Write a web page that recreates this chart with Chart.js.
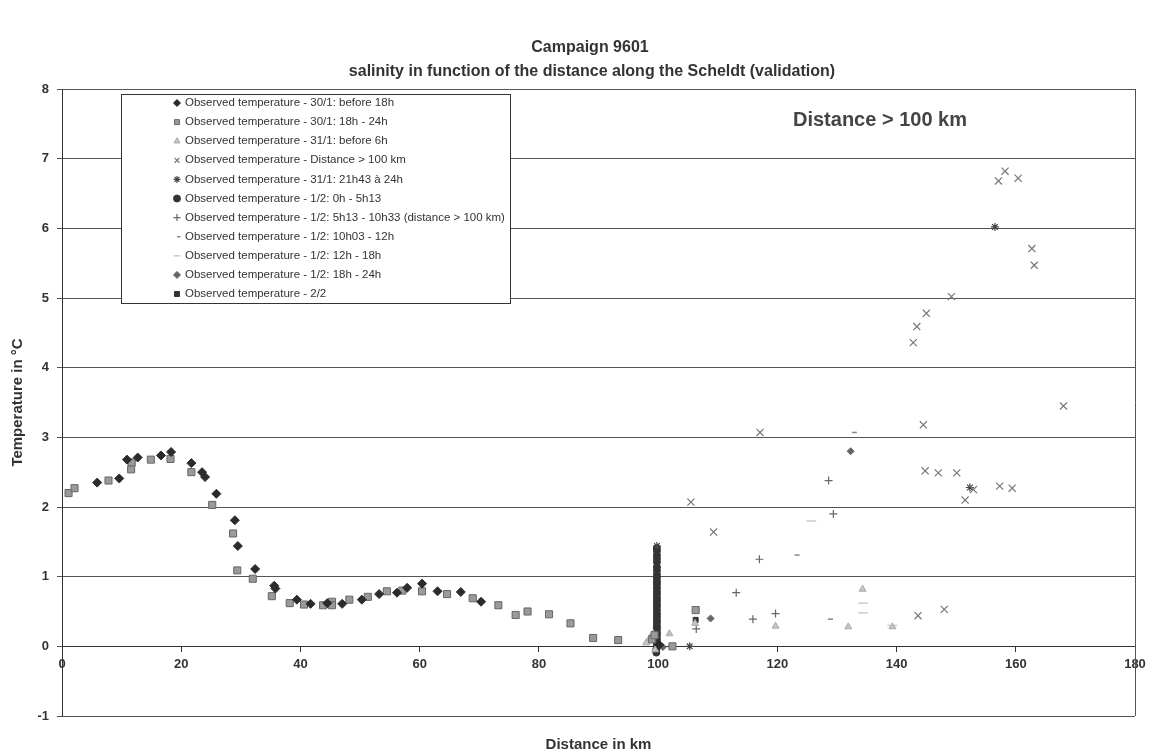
<!DOCTYPE html>
<html>
<head>
<meta charset="utf-8">
<script src="https://cdn.jsdelivr.net/npm/chart.js@4"></script>
<style>
  body { margin: 0; background: #fff; }
  #wrap { width: 1154px; height: 753px; }
</style>
</head>
<body>
<div id="wrap"><canvas id="chart" width="1154" height="753"></canvas></div>
<script>
// [km, temperature]
const obs301Before18 = [[5.9,2.35],[9.6,2.41],[10.9,2.68],[12.7,2.71],[16.6,2.74],[18.3,2.79],[21.7,2.63],[23.5,2.50],[24.0,2.43],[25.9,2.19],[29.0,1.81],[29.5,1.44],[32.4,1.11],[35.6,0.87],[35.8,0.83],[39.4,0.67],[41.7,0.61],[44.5,0.62],[47.0,0.61],[50.3,0.67],[53.2,0.75],[56.2,0.77],[57.9,0.84],[60.4,0.90],[63.0,0.79],[66.9,0.78],[70.3,0.64],[100.2,0.02]];
const obs301Late = [[1.1,2.20],[2.1,2.27],[7.8,2.38],[11.6,2.54],[11.7,2.64],[14.9,2.68],[18.2,2.69],[21.7,2.50],[25.2,2.03],[28.7,1.62],[29.4,1.09],[32.0,0.97],[35.2,0.72],[38.2,0.62],[40.6,0.60],[43.8,0.59],[45.3,0.64],[45.3,0.59],[48.2,0.67],[51.3,0.71],[54.5,0.79],[57.1,0.80],[60.4,0.79],[64.6,0.75],[68.9,0.69],[73.2,0.59],[76.1,0.45],[78.1,0.50],[81.7,0.46],[85.3,0.33],[89.1,0.12],[93.3,0.09],[99.0,0.10],[99.4,0.16],[102.4,0.0],[106.3,0.52]];
const obs311Before6 = [[98.0,0.05],[98.6,0.12],[99.2,0.18],[99.5,-0.05],[101.9,0.18],[106.2,0.33],[119.7,0.29],[131.9,0.28],[134.3,0.82],[139.3,0.28]];
const obsOver100 = [[105.5,2.07],[109.3,1.64],[117.1,3.07],[142.8,4.36],[143.4,4.59],[145.0,4.78],[149.2,5.02],[157.1,6.68],[158.2,6.82],[160.4,6.72],[162.7,5.71],[163.1,5.47],[168.0,3.45],[144.5,3.18],[144.8,2.52],[147.0,2.49],[150.1,2.49],[152.9,2.25],[151.5,2.10],[157.3,2.30],[159.4,2.27],[143.6,0.44],[148.0,0.53]];
const obs311Night = [[99.8,1.44],[105.3,0.0],[156.5,6.02],[152.3,2.28]];
const obs12Early = [[99.8,1.41],[99.8,1.37],[99.8,1.31],[99.8,1.26],[99.8,1.21],[99.8,1.14],[99.8,1.09],[99.8,1.03],[99.8,0.98],[99.8,0.93],[99.8,0.89],[99.8,0.84],[99.8,0.79],[99.8,0.75],[99.8,0.70],[99.8,0.66],[99.8,0.61],[99.8,0.57],[99.8,0.52],[99.8,0.47],[99.8,0.43],[99.8,0.38],[99.8,0.34],[99.8,0.29],[99.8,0.25],[99.8,0.20],[99.8,0.16],[99.8,0.11],[99.8,0.07],[99.8,0.02],[99.7,-0.04],[99.7,-0.09]];
const obs12Morning = [[106.4,0.25],[113.1,0.77],[115.9,0.39],[117.0,1.25],[119.7,0.47],[128.6,2.38],[129.4,1.90]];
const obs12Noon = [[99.1,0.27],[122.9,1.31],[128.5,0.39],[132.5,3.07]];
const obs12Afternoon = [[125.7,1.80],[134.4,0.62],[134.4,0.48],[139.3,0.30]];
const obs12Evening = [[108.8,0.40],[100.8,-0.01],[132.3,2.80]];
const obs22 = [[102.4,0.0],[106.3,0.38]];

const xTicks = [0, 20, 40, 60, 80, 100, 120, 140, 160, 180];
const yTicks = [-1, 0, 1, 2, 3, 4, 5, 6, 7, 8];

const pts = arr => arr.map(p => ({ x: p[0], y: p[1] }));
const FONT = '"Liberation Sans", Arial, sans-serif';

function series(label, data, style, radius, fill, stroke, bw) {
  return {
    label: label,
    data: pts(data),
    pointStyle: style,
    pointRadius: radius,
    pointHoverRadius: radius,
    backgroundColor: fill,
    borderColor: stroke,
    borderWidth: bw,
    showLine: false
  };
}

const datasets = [
  series('Observed temperature - 30/1: before 18h', obs301Before18, 'rectRot', 4.5, '#2b2b2b', '#2b2b2b', 1),
  series('Observed temperature - 30/1: 18h - 24h', obs301Late, 'rect', 5, '#9a9a9a', '#666', 1),
  series('Observed temperature - 31/1: before 6h', obs311Before6, 'triangle', 4, '#c4c4c4', '#aaa', 1),
  series('Observed temperature - Distance > 100 km', obsOver100, 'crossRot', 5, '#777', '#777', 1.2),
  series('Observed temperature - 31/1: 21h43 à 24h', obs311Night, 'star', 4, '#444', '#444', 1.2),
  series('Observed temperature - 1/2: 0h - 5h13', obs12Early, 'circle', 3.5, '#333', '#333', 1),
  series('Observed temperature - 1/2: 5h13 - 10h33 (distance > 100 km)', obs12Morning, 'cross', 4, '#666', '#666', 1.2),
  series('Observed temperature - 1/2: 10h03 - 12h', obs12Noon, 'dash', 5, '#888', '#888', 1.5),
  series('Observed temperature - 1/2: 12h - 18h', obs12Afternoon, 'line', 5, '#ccc', '#ccc', 1.5),
  series('Observed temperature - 1/2: 18h - 24h', obs12Evening, 'rectRot', 3.5, '#666', '#666', 1),
  series('Observed temperature - 2/2', obs22, 'rect', 3.5, '#333', '#333', 1)
];

const decorations = {
  id: 'decorations',
  afterDraw(chart) {
    const ctx = chart.ctx;
    const a = chart.chartArea;
    ctx.save();
    // right frame line
    ctx.strokeStyle = '#555';
    ctx.lineWidth = 1;
    ctx.beginPath();
    ctx.moveTo(a.right + 0.5, a.top);
    ctx.lineTo(a.right + 0.5, a.bottom);
    ctx.stroke();

    ctx.fillStyle = '#333';
    ctx.textAlign = 'center';
    ctx.textBaseline = 'middle';
    ctx.font = 'bold 16px ' + FONT;
    ctx.fillText('Campaign 9601', 590, 48);
    ctx.fillText('salinity in function of the distance along the Scheldt (validation)', 592, 72);

    ctx.font = 'bold 15px ' + FONT;
    ctx.fillText('Distance in km', (a.left + a.right) / 2, 745);
    ctx.save();
    ctx.translate(18, (a.top + a.bottom) / 2);
    ctx.rotate(-Math.PI / 2);
    ctx.fillText('Temperature in °C', 0, 0);
    ctx.restore();

    ctx.font = 'bold 20px ' + FONT;
    ctx.fillStyle = '#444';
    ctx.textAlign = 'left';
    ctx.fillText('Distance > 100 km', 793, 120);

    // legend box
    const lx = 121, ly = 94, lw = 389, lh = 209;
    ctx.fillStyle = '#fff';
    ctx.fillRect(lx, ly, lw, lh);
    ctx.strokeStyle = '#333';
    ctx.strokeRect(lx + 0.5, ly + 0.5, lw, lh);
    ctx.font = '11.5px ' + FONT;
    chart.data.datasets.forEach((ds, i) => {
      const y = 103 + i * 19.1;
      ctx.fillStyle = ds.backgroundColor;
      ctx.strokeStyle = ds.borderColor;
      ctx.lineWidth = ds.borderWidth;
      Chart.helpers.drawPoint(ctx, {
        pointStyle: ds.pointStyle,
        radius: Math.min(ds.pointRadius, 3.5),
        rotation: 0,
        borderWidth: ds.borderWidth
      }, 177, y);
      ctx.fillStyle = '#333';
      ctx.fillText(ds.label, 185, y);
    });
    ctx.restore();
  }
};

new Chart(document.getElementById('chart'), {
  type: 'scatter',
  data: { datasets: datasets },
  options: {
    responsive: false,
    animation: false,
    layout: { padding: { top: 89, bottom: 37, right: 19, left: 0 } },
    plugins: {
      legend: { display: false },
      title: { display: false },
      tooltip: { enabled: false }
    },
    scales: {
      x: {
        type: 'linear',
        position: { y: 0 },
        min: 0,
        max: 180,
        afterBuildTicks: s => { s.ticks = xTicks.map(v => ({ value: v })); },
        grid: { drawOnChartArea: false, drawTicks: true, tickLength: 5, color: '#333' },
        border: { display: true, color: '#333', width: 1 },
        ticks: { color: '#333', font: { family: FONT, size: 13, weight: 'bold' }, padding: 5, maxRotation: 0 }
      },
      y: {
        type: 'linear',
        min: -1,
        max: 8,
        afterBuildTicks: s => { s.ticks = yTicks.map(v => ({ value: v })); },
        afterFit: s => { s.width = 62; },
        grid: { color: '#555', lineWidth: 1, drawTicks: true, tickLength: 5 },
        border: { display: true, color: '#333', width: 1 },
        ticks: { color: '#333', font: { family: FONT, size: 13, weight: 'bold' }, padding: 8 }
      }
    }
  },
  plugins: [decorations]
});
</script>
</body>
</html>
